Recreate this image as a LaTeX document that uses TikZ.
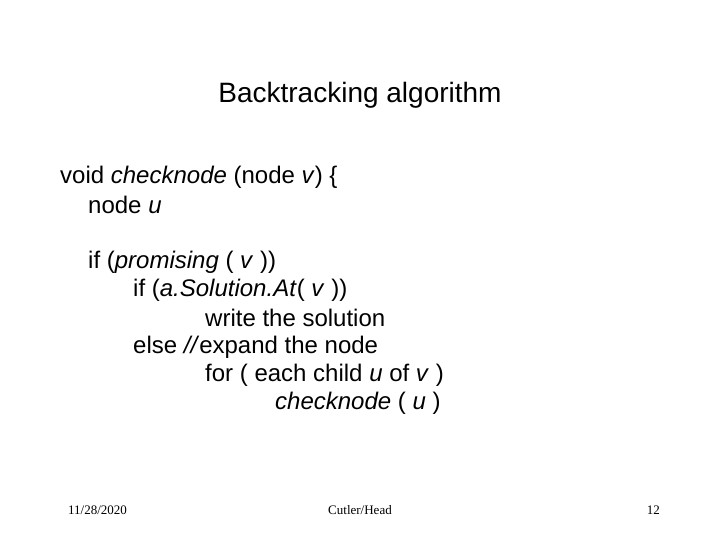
\documentclass[tikz,border=0pt]{standalone}
\usepackage{fontspec}
\setmainfont{Liberation Sans}
\newfontfamily\footfont{Liberation Serif}
\begin{document}
\begin{tikzpicture}[x=1bp,y=-1bp,
  line/.style={anchor=west,inner sep=0pt,font=\fontsize{24bp}{28bp}\selectfont},
  foot/.style={inner sep=0pt,font=\footfont\fontsize{13bp}{15bp}\selectfont}]
\useasboundingbox (0,0) rectangle (720,540);
\node[inner sep=0pt,font=\fontsize{28bp}{32bp}\selectfont] (title) at (360,95) {Backtracking algorithm};
\node[line] (l1) at (60,177) {void \textit{checknode} (node \textit{v}) \{};
\node[line] (l2) at (88,205) {node \textit{u}};
\node[line] (l3) at (88,262) {if (\textit{promising} ( \textit{v} ))};
\node[line] (l4) at (133,290) {if (\textit{a.Solution.At}( \textit{v} ))};
\node[line] (l5) at (205,318) {write the solution};
\node[line] (l6) at (133,347) {else \textit{//}expand the node};
\node[line] (l7) at (205,375) {for ( each child \textit{u} of \textit{v} )};
\node[line] (l8) at (275,403) {\textit{checknode} ( \textit{u} )};
\node[foot,anchor=west] (date) at (68,510) {11/28/2020};
\node[foot] (auth) at (360,510) {Cutler/Head};
\node[foot,anchor=east] (page) at (660,510) {12};
\end{tikzpicture}
\end{document}
